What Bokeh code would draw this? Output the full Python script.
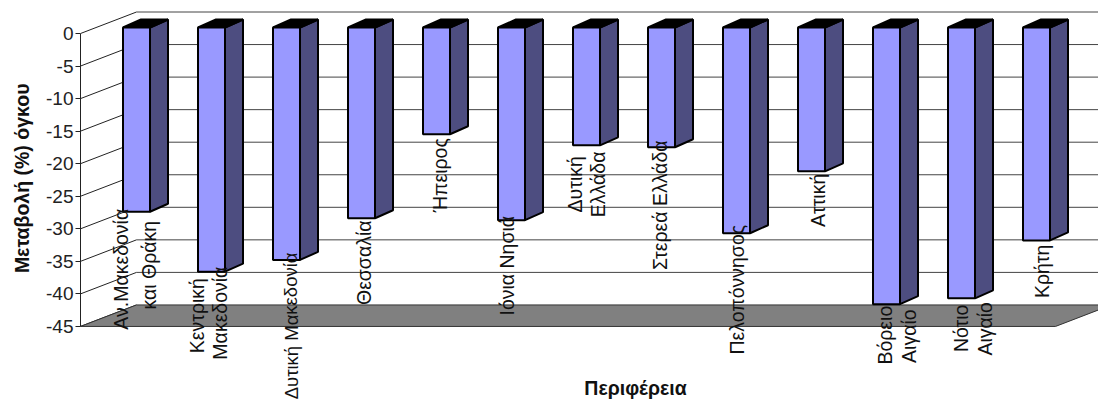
from bokeh.plotting import figure
from bokeh.models import Label, FixedTicker, Range1d, Title
from bokeh.embed import file_html
from bokeh.resources import INLINE
from bokeh.core.properties import value

regions = [["Αν.Μακεδονία", "και Θράκη"], ["Κεντρική", "Μακεδονία"], ["Δυτική Μακεδονία"], ["Θεσσαλία"],
           ["Ήπειρος"], ["Ιόνια Νησιά"], ["Δυτική", "Ελλάδα"], ["Στερεά Ελλάδα"], ["Πελοπόννησος"],
           ["Αττική"], ["Βόρειο", "Αιγαίο"], ["Νότιο", "Αιγαίο"], ["Κρήτη"]]
change = [-28.3, -37.5, -35.7, -29.3, -16.4, -29.6, -18.1, -18.4, -31.6, -22.1, -42.5, -41.6, -32.7]
ticks = [0, -5, -10, -15, -20, -25, -30, -35, -40, -45]
y_title = "Μεταβολή (%) όγκου"
x_title = "Περιφέρεια"

# label placement relative to each bar: (px right of bar centre, px below bar foot, font px) for every line
label_nudge = [[(-15.5, 57.5, 19.5), (12.5, 53.5, 19.5)], [(-14.5, 44, 19.5), (8.5, 41.5, 19.5)], [(4.5, 66, 18.5)],
               [(2.5, 44.5, 19.5)], [(3.5, 41, 19.5)], [(-4.5, 45.5, 19.5)], [(-11.5, 39, 19.5), (11.5, 39, 19.5)],
               [(-1.5, 58, 19.5)], [(0.5, 56.5, 19.5)], [(6.5, 29, 19.5)], [(-1.5, 31, 19.5), (22.5, 32, 19.5)],
               [(-0.5, 30, 19.5), (23.5, 30.5, 19.5)], [(5.5, 31, 19.5)]]

PXU = 6.51   # px per % unit
PXS = 75.0   # px per category slot
W, H = 1098, 400
LEFT = 80
y0 = 33 / PXU
p = figure(width=W, height=H, output_backend="svg", toolbar_location=None,
           x_range=Range1d(0, (W - LEFT) / PXS), y_range=Range1d(y0 - H / PXU, y0),
           min_border_left=LEFT, min_border_right=0, min_border_top=0, min_border_bottom=0,
           x_axis_location=None, outline_line_color=None)
p.xgrid.visible = False
p.ygrid.visible = False

ax = p.yaxis[0]
ax.ticker = FixedTicker(ticks=ticks)
ax.major_label_overrides = {t: str(t) for t in ticks}
ax.bounds = (min(ticks), max(ticks))
ax.major_label_text_font = "Liberation Sans"
ax.major_label_text_font_size = "19px"
ax.major_label_text_color = "#222222"
ax.major_tick_out = 5
ax.major_tick_in = 0
ax.minor_tick_line_color = None
ax.axis_line_color = "#222222"
ax.major_tick_line_color = "#222222"
ax.major_label_standoff = 2

p.add_layout(Title(text=y_title, align="right", vertical_align="top", offset=83, standoff=17,
                   text_font="Liberation Sans", text_font_style="bold", text_font_size="19.5px",
                   text_color="#111111"), "left")

# depth of the 3D box
DX = 56 / PXS
DY = 21.5 / PXU
n = len(change)
bottom = min(ticks)

for t in ticks:
    if t != bottom:
        p.line([DX, n + DX], [t + DY, t + DY], line_color="#444444", line_width=1)
    p.line([0, DX], [t, t + DY], line_color="#222222", line_width=1)

p.patch([0, DX, n + DX, n], [bottom, bottom + DY, bottom + DY, bottom],
        fill_color="#808080", line_color="#333333", line_width=1)

FX = 42.5 / PXS    # front face left inside slot
BW = 27 / PXS      # front width
SX = 18 / PXS      # side depth x
SY = 8 / PXU       # side depth y
FY = 6 / PXU       # front face offset up
for i, v in enumerate(change):
    l, r = i + FX, i + FX + BW
    p.patch([r, r + SX, r + SX, r], [FY, FY + SY, v + FY + SY, v + FY],
            fill_color="#4D4D80", line_color="black", line_width=2)
    p.patch([l, l + SX, r + SX, r], [FY, FY + SY, FY + SY, FY],
            fill_color="black", line_color="black", line_width=2)
    p.quad(left=l, right=r, top=FY, bottom=v + FY,
           fill_color="#9999FF", line_color="black", line_width=2)

for i, (v, lines, nudges) in enumerate(zip(change, regions, label_nudge)):
    cx = i + FX + BW / 2
    for t, (nx, ny, fs) in zip(lines, nudges):
        p.text([cx + nx / PXS], [v + FY - ny / PXU], text=[t], angle=1.5708,
               text_align="center", text_baseline="middle", text_font=value("Liberation Sans"),
               text_font_size=f"{fs}px", text_color="#111111")

p.add_layout(Label(x=635 - LEFT, y=H - 387, x_units="screen", y_units="screen", text=x_title,
                   text_align="center", text_baseline="middle", text_font="Liberation Sans",
                   text_font_style="bold", text_font_size="19.5px", text_color="#111111"))

open("out.html", "w").write(file_html(p, INLINE))
